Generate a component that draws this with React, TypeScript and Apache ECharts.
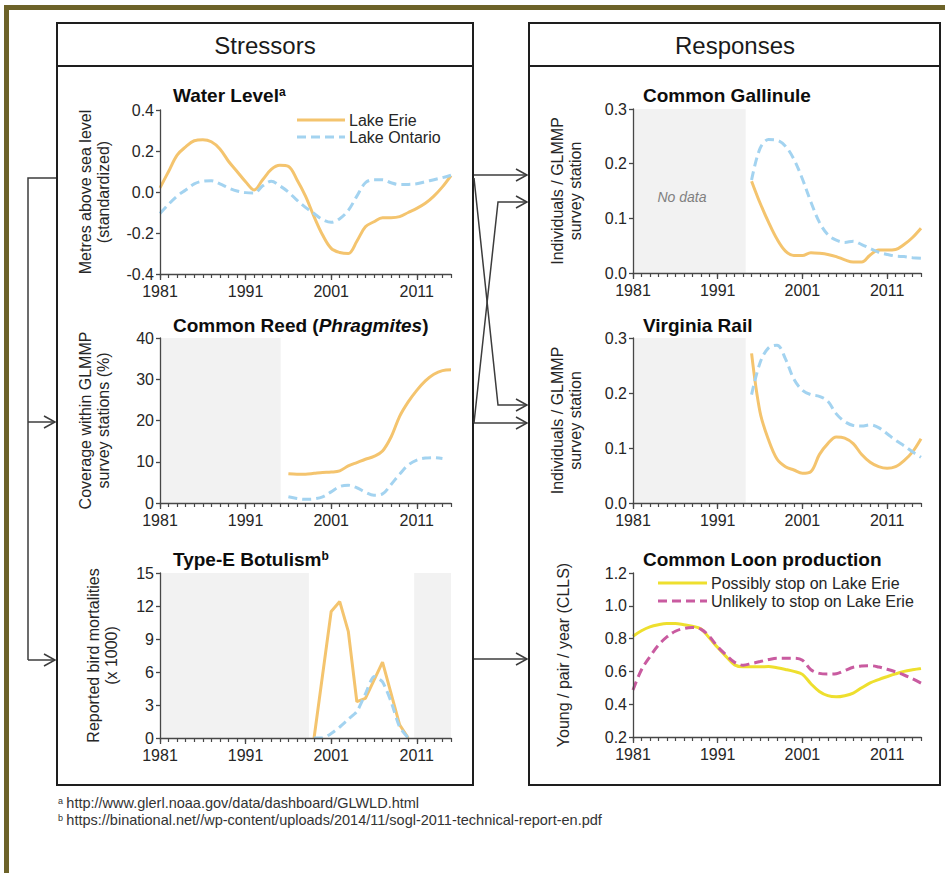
import React, { useEffect, useRef } from "react";
import * as echarts from "echarts";

const FONT = "'Liberation Sans', Arial, Helvetica, sans-serif";

// ---------- data ----------
const YEARS_FULL = [
  1981, 1982, 1983, 1984, 1985, 1986, 1987, 1988, 1989, 1990,
  1991, 1992, 1993, 1994, 1995, 1996, 1997, 1998, 1999, 2000,
  2001, 2002, 2003, 2004, 2005, 2006, 2007, 2008, 2009, 2010,
  2011, 2012, 2013, 2014, 2015,
];
const X_TICK_LABELS = [1981, 1991, 2001, 2011];

// Water level (standardized metres)
const waterErie = [
  0.02, 0.10, 0.18, 0.22, 0.25, 0.255, 0.245, 0.21, 0.15, 0.10,
  0.05, 0.01, 0.06, 0.11, 0.13, 0.125, 0.06, -0.02, -0.12, -0.21,
  -0.275, -0.295, -0.30, -0.24, -0.17, -0.145, -0.125, -0.125, -0.12, -0.10,
  -0.08, -0.055, -0.02, 0.025, 0.08,
];
const waterOntario = [
  -0.105, -0.06, -0.02, 0.01, 0.04, 0.053, 0.055, 0.04, 0.02, 0.005,
  -0.003, -0.005, 0.03, 0.052, 0.03, 0.0, -0.04, -0.075, -0.105, -0.135,
  -0.148, -0.13, -0.09, -0.02, 0.045, 0.06, 0.06, 0.045, 0.036, 0.037,
  0.04, 0.05, 0.06, 0.07, 0.082,
];

// Common Reed coverage (%)
const reedErieYears = [
  1996, 1997, 1998, 1999, 2000, 2001, 2002, 2003, 2004, 2005,
  2006, 2007, 2008, 2009, 2010, 2011, 2012, 2013, 2014, 2015,
];
const reedErie = [
  7.1, 7.0, 7.0, 7.2, 7.4, 7.5, 7.8, 9.0, 9.8, 10.6,
  11.3, 12.6, 16.0, 21.0, 24.5, 27.3, 29.6, 31.2, 32.1, 32.3,
];
const reedOntarioYears = [
  1996, 1997, 1998, 1999, 2000, 2001, 2002, 2003, 2004, 2005,
  2006, 2007, 2008, 2009, 2010, 2011, 2012, 2013, 2014,
];
const reedOntario = [
  1.5, 1.1, 0.9, 1.0, 1.5, 2.7, 4.0, 4.3, 3.7, 2.6,
  1.9, 2.2, 4.5, 7.0, 9.2, 10.4, 10.9, 11.0, 10.8,
];
const reedNoData = [[1981, 1995.1]];

// Type-E Botulism (x 1000 birds)
const botErieYears = [1999, 2001, 2002, 2003, 2004, 2005, 2007, 2009, 2010];
const botErie = [0, 11.5, 12.4, 9.7, 3.3, 3.6, 6.9, 1.2, 0];
const botOntarioYears = [1999, 2000, 2001, 2002, 2003, 2004, 2005, 2006, 2007, 2008, 2009, 2010];
const botOntario = [0, 0, 0.4, 1.0, 1.7, 2.4, 4.0, 5.6, 5.1, 3.3, 1.0, 0];
const botNoData = [[1981, 1998.4], [2010.7, 2015]];

// Common Gallinule (individuals / station)
const marshYears = [
  1995, 1996, 1997, 1998, 1999, 2000, 2001, 2002, 2003, 2004,
  2005, 2006, 2007, 2008, 2009, 2010, 2011, 2012, 2013, 2014, 2015,
];
const gallErie = [
  0.168, 0.128, 0.093, 0.062, 0.04, 0.032, 0.032, 0.037, 0.036, 0.034,
  0.03, 0.024, 0.02, 0.02, 0.033, 0.042, 0.042, 0.043, 0.052, 0.065, 0.082,
];
const gallOntario = [
  0.17, 0.228, 0.244, 0.243, 0.232, 0.208, 0.172, 0.13, 0.093, 0.07,
  0.06, 0.056, 0.058, 0.052, 0.045, 0.038, 0.034, 0.031, 0.03, 0.028, 0.027,
];
// Virginia Rail
const railErie = [
  0.272, 0.165, 0.115, 0.08, 0.066, 0.06, 0.054, 0.057, 0.088, 0.108,
  0.12, 0.118, 0.108, 0.088, 0.074, 0.066, 0.063, 0.066, 0.077, 0.093, 0.117,
];
const railOntario = [
  0.197, 0.255, 0.282, 0.287, 0.262, 0.225, 0.205, 0.197, 0.194, 0.185,
  0.162, 0.148, 0.141, 0.14, 0.142, 0.137, 0.126, 0.114, 0.104, 0.093, 0.083,
];
const marshNoData = [[1981, 1994.3]];

// Common Loon production (young / pair / year)
const loonPossibly = [
  0.815, 0.848, 0.872, 0.885, 0.892, 0.892, 0.885, 0.876, 0.86, 0.805,
  0.745, 0.69, 0.64, 0.628, 0.628, 0.628, 0.63, 0.622, 0.612, 0.6,
  0.582, 0.525, 0.478, 0.452, 0.445, 0.452, 0.468, 0.5, 0.53, 0.55,
  0.568, 0.585, 0.6, 0.61, 0.618,
];
const loonUnlikely = [
  0.487, 0.61, 0.69, 0.76, 0.81, 0.845, 0.862, 0.868, 0.858, 0.815,
  0.75, 0.7, 0.655, 0.638, 0.648, 0.66, 0.672, 0.68, 0.68, 0.68,
  0.668, 0.61, 0.588, 0.584, 0.586, 0.605, 0.625, 0.633, 0.635, 0.627,
  0.613, 0.597, 0.578, 0.555, 0.528,
];

// ---------- styles ----------
const C_ERIE = "#F4C46E";
const C_ONT = "#A3D3F0";
const C_POSS = "#EEDF2E";
const C_UNL = "#C95BA0";
const AXIS = "#474747";
const TXT = "#262626";
const SHADE = "#F2F2F2";
const FRAME = "#1e1e1e";
const ARROW = "#3c3c3c";
const OLIVE = "#6D6329";
const DASH = [9, 5];

const pairs = (xs: number[], ys: number[]) => xs.map((x, i) => [x, ys[i]]);

function lineSeries(
  name: string, gi: number, xs: number[], ys: number[], color: string,
  dashed: boolean, smooth: number | boolean, markArea?: any
) {
  const s: any = {
    type: "line",
    name,
    xAxisIndex: gi * 2,
    yAxisIndex: gi,
    data: pairs(xs, ys),
    symbol: "none",
    showSymbol: false,
    smooth,
    lineStyle: { color, width: 3, type: dashed ? DASH : "solid", cap: "butt" },
    itemStyle: { color },
    z: 3,
  };
  if (markArea) s.markArea = markArea;
  return s;
}

function shade(ranges: number[][], yMin: number, yMax: number) {
  return {
    silent: true,
    label: { show: false },
    itemStyle: { color: SHADE },
    data: ranges.map(([a, b]) => [
      { xAxis: a, yAxis: yMin },
      { xAxis: b, yAxis: yMax },
    ]),
  };
}

const GRIDS = [
  { left: 160, top: 110, width: 291, height: 164 },
  { left: 160, top: 338, width: 291, height: 165 },
  { left: 160, top: 573, width: 291, height: 165 },
  { left: 633, top: 109, width: 288, height: 164 },
  { left: 633, top: 338, width: 288, height: 165 },
  { left: 633, top: 573, width: 288, height: 164 },
];

function xAxes(gi: number) {
  const base = {
    type: "value",
    gridIndex: gi,
    position: "bottom",
    min: YEARS_FULL[0],
    max: YEARS_FULL[YEARS_FULL.length - 1],
    splitLine: { show: false },
    z: 10,
  };
  return [
    {
      ...base,
      interval: X_TICK_LABELS[1] - X_TICK_LABELS[0],
      axisLine: { show: true, onZero: false, lineStyle: { color: AXIS, width: 1.3 } },
      axisTick: { show: true, length: 6, lineStyle: { color: AXIS, width: 1.3 } },
      axisLabel: {
        show: true, color: TXT, fontSize: 16, fontFamily: FONT, margin: 9,
        showMaxLabel: false,
        formatter: (v: number) => (X_TICK_LABELS.includes(v) ? String(v) : ""),
      },
    },
    {
      ...base,
      interval: 1,
      axisLine: { show: false, onZero: false },
      axisTick: { show: true, length: 4, lineStyle: { color: AXIS, width: 1.2 } },
      axisLabel: { show: false },
    },
  ];
}

function yAxis(gi: number, min: number, max: number, interval: number, decimals: number, name: string, nameGap: number) {
  return {
    type: "value",
    gridIndex: gi,
    position: "left",
    min, max, interval,
    z: 10,
    splitLine: { show: false },
    axisLine: { show: true, onZero: false, lineStyle: { color: AXIS, width: 1.3 } },
    axisTick: { show: true, length: 4, lineStyle: { color: AXIS, width: 1.3 } },
    axisLabel: {
      color: TXT, fontSize: 16, fontFamily: FONT, margin: 6,
      formatter: (v: number) => (Math.abs(v) < 1e-9 ? 0 : v).toFixed(decimals),
    },
    name,
    nameLocation: "middle",
    nameRotate: 90,
    nameGap,
    nameTextStyle: { color: TXT, fontSize: 16, fontFamily: FONT, lineHeight: 18 },
  };
}

function title(x: number, y: number, text: string) {
  return {
    type: "text",
    x, y, z: 100,
    style: {
      text,
      align: "left",
      verticalAlign: "middle",
      rich: {
        b: { fontSize: 19, fontWeight: "bold", fontFamily: FONT, fill: "#0d0d0d" },
        bi: { fontSize: 19, fontWeight: "bold", fontStyle: "italic", fontFamily: FONT, fill: "#0d0d0d" },
        s: { fontSize: 12, fontWeight: "bold", fontFamily: FONT, fill: "#0d0d0d", verticalAlign: "top" },
      },
    },
  };
}

function polyline(points: number[][]) {
  return {
    type: "polyline",
    z: 100,
    shape: { points },
    style: { stroke: ARROW, lineWidth: 1.5, fill: "none" },
  };
}
function arrowHead(x: number, y: number) {
  return polyline([[x - 11, y - 6], [x, y], [x - 11, y + 6]]);
}

function legendItem(x: number, y: number, lineLen: number, color: string, dashed: boolean, label: string) {
  return [
    {
      type: "line", z: 100,
      shape: { x1: x, y1: y, x2: x + lineLen, y2: y },
      style: { stroke: color, lineWidth: 3, lineDash: dashed ? DASH : null },
    },
    {
      type: "text", z: 100, x: x + lineLen + 4, y,
      style: { text: label, fontSize: 16, fontFamily: FONT, fill: TXT, align: "left", verticalAlign: "middle" },
    },
  ];
}

function footnote(y: number, mark: string, text: string) {
  return {
    type: "text", x: 58, y, z: 100,
    style: {
      text: `{s|${mark}} {t|${text}}`,
      verticalAlign: "middle",
      rich: {
        s: { fontSize: 9, fontFamily: FONT, fill: "#333", verticalAlign: "top", lineHeight: 14 },
        t: { fontSize: 14.5, fontFamily: FONT, fill: "#333", lineHeight: 14 },
      },
    },
  };
}

function buildOption(): any {
  const graphic: any[] = [
    // olive frame
    { type: "rect", shape: { x: 4, y: 5, width: 941, height: 5 }, style: { fill: OLIVE } },
    { type: "rect", shape: { x: 4, y: 5, width: 5, height: 868 }, style: { fill: OLIVE } },
    // panels
    { type: "rect", shape: { x: 57, y: 23, width: 416, height: 762 }, style: { fill: "none", stroke: FRAME, lineWidth: 2 } },
    { type: "line", shape: { x1: 57, y1: 66, x2: 473, y2: 66 }, style: { stroke: FRAME, lineWidth: 2 } },
    { type: "rect", shape: { x: 529, y: 23, width: 411, height: 762 }, style: { fill: "none", stroke: FRAME, lineWidth: 2 } },
    { type: "line", shape: { x1: 529, y1: 66, x2: 940, y2: 66 }, style: { stroke: FRAME, lineWidth: 2 } },
    {
      type: "text", x: 265, y: 45, z: 100,
      style: { text: "Stressors", fontSize: 24, fontFamily: FONT, fill: "#1a1a1a", align: "center", verticalAlign: "middle" },
    },
    {
      type: "text", x: 735, y: 45, z: 100,
      style: { text: "Responses", fontSize: 24, fontFamily: FONT, fill: "#1a1a1a", align: "center", verticalAlign: "middle" },
    },
    // chart titles
    title(173, 95, "{b|Water Level}{s|a}"),
    title(173, 325, "{b|Common Reed (}{bi|Phragmites}{b|)}"),
    title(173, 559, "{b|Type-E Botulism}{s|b}"),
    title(643, 95, "{b|Common Gallinule}"),
    title(643, 325, "{b|Virginia Rail}"),
    title(643, 559, "{b|Common Loon production}"),
    {
      type: "text", x: 682, y: 197, z: 100,
      style: { text: "No data", fontSize: 14, fontStyle: "italic", fontFamily: FONT, fill: "#808080", align: "center", verticalAlign: "middle" },
    },
    // legends
    ...legendItem(297, 120, 48, C_ERIE, false, "Lake Erie"),
    ...legendItem(297, 137, 48, C_ONT, true, "Lake Ontario"),
    ...legendItem(658, 583, 49, C_POSS, false, "Possibly stop on Lake Erie"),
    ...legendItem(658, 601, 49, C_UNL, true, "Unlikely to stop on Lake Erie"),
    // left bracket arrows
    polyline([[56, 178], [28, 178], [28, 660]]),
    polyline([[28, 422], [55, 422]]),
    arrowHead(55, 422),
    polyline([[28, 660], [55, 660]]),
    arrowHead(55, 660),
    // middle arrows
    polyline([[474, 175], [527, 175]]),
    arrowHead(527, 175),
    polyline([[474, 178], [498, 405], [527, 405]]),
    arrowHead(527, 405),
    polyline([[474, 423], [498, 202], [527, 202]]),
    arrowHead(527, 202),
    polyline([[474, 423], [527, 423]]),
    arrowHead(527, 423),
    polyline([[474, 659], [527, 659]]),
    arrowHead(527, 659),
    // footnotes
    footnote(803, "a", "http://www.glerl.noaa.gov/data/dashboard/GLWLD.html"),
    footnote(820, "b", "https://binational.net//wp-content/uploads/2014/11/sogl-2011-technical-report-en.pdf"),
  ];

  const xAxis: any[] = [];
  for (let i = 0; i < GRIDS.length; i++) xAxis.push(...xAxes(i));

  const yAxisArr = [
    yAxis(0, -0.4, 0.4, 0.2, 1, "Metres above sea level\n(standardized)", 48),
    yAxis(1, 0, 40, 10, 0, "Coverage within GLMMP\nsurvey stations (%)", 48),
    yAxis(2, 0, 15, 3, 0, "Reported bird mortalities\n(x 1000)", 40),
    yAxis(3, 0, 0.3, 0.1, 1, "Individuals / GLMMP\nsurvey station", 49),
    yAxis(4, 0, 0.3, 0.1, 1, "Individuals / GLMMP\nsurvey station", 49),
    yAxis(5, 0.2, 1.2, 0.2, 1, "Young / pair / year (CLLS)", 61),
  ];

  const series = [
    lineSeries("Lake Erie", 0, YEARS_FULL, waterErie, C_ERIE, false, 0.35),
    lineSeries("Lake Ontario", 0, YEARS_FULL, waterOntario, C_ONT, true, 0.35),
    lineSeries("Reed Erie", 1, reedErieYears, reedErie, C_ERIE, false, 0.35, shade(reedNoData, 0, 40)),
    lineSeries("Reed Ontario", 1, reedOntarioYears, reedOntario, C_ONT, true, 0.35),
    lineSeries("Botulism Erie", 2, botErieYears, botErie, C_ERIE, false, false, shade(botNoData, 0, 15)),
    lineSeries("Botulism Ontario", 2, botOntarioYears, botOntario, C_ONT, true, 0.2),
    lineSeries("Gallinule Erie", 3, marshYears, gallErie, C_ERIE, false, 0.35, shade(marshNoData, 0, 0.3)),
    lineSeries("Gallinule Ontario", 3, marshYears, gallOntario, C_ONT, true, 0.35),
    lineSeries("Rail Erie", 4, marshYears, railErie, C_ERIE, false, 0.35, shade(marshNoData, 0, 0.3)),
    lineSeries("Rail Ontario", 4, marshYears, railOntario, C_ONT, true, 0.35),
    lineSeries("Possibly stop on Lake Erie", 5, YEARS_FULL, loonPossibly, C_POSS, false, 0.35),
    lineSeries("Unlikely to stop on Lake Erie", 5, YEARS_FULL, loonUnlikely, C_UNL, true, 0.35),
  ];

  return {
    animation: false,
    backgroundColor: "#ffffff",
    grid: GRIDS.map((g) => ({ ...g, containLabel: false })),
    xAxis,
    yAxis: yAxisArr,
    series,
    graphic,
  };
}

export default function App() {
  const ref = useRef<HTMLDivElement>(null);
  useEffect(() => {
    if (!ref.current) return;
    const chart = echarts.init(ref.current, null, { renderer: "svg" });
    chart.setOption(buildOption());
    return () => chart.dispose();
  }, []);
  return (
    <div
      ref={ref}
      style={{ position: "fixed", left: 0, top: 0, width: 945, height: 873, background: "#ffffff" }}
    />
  );
}
